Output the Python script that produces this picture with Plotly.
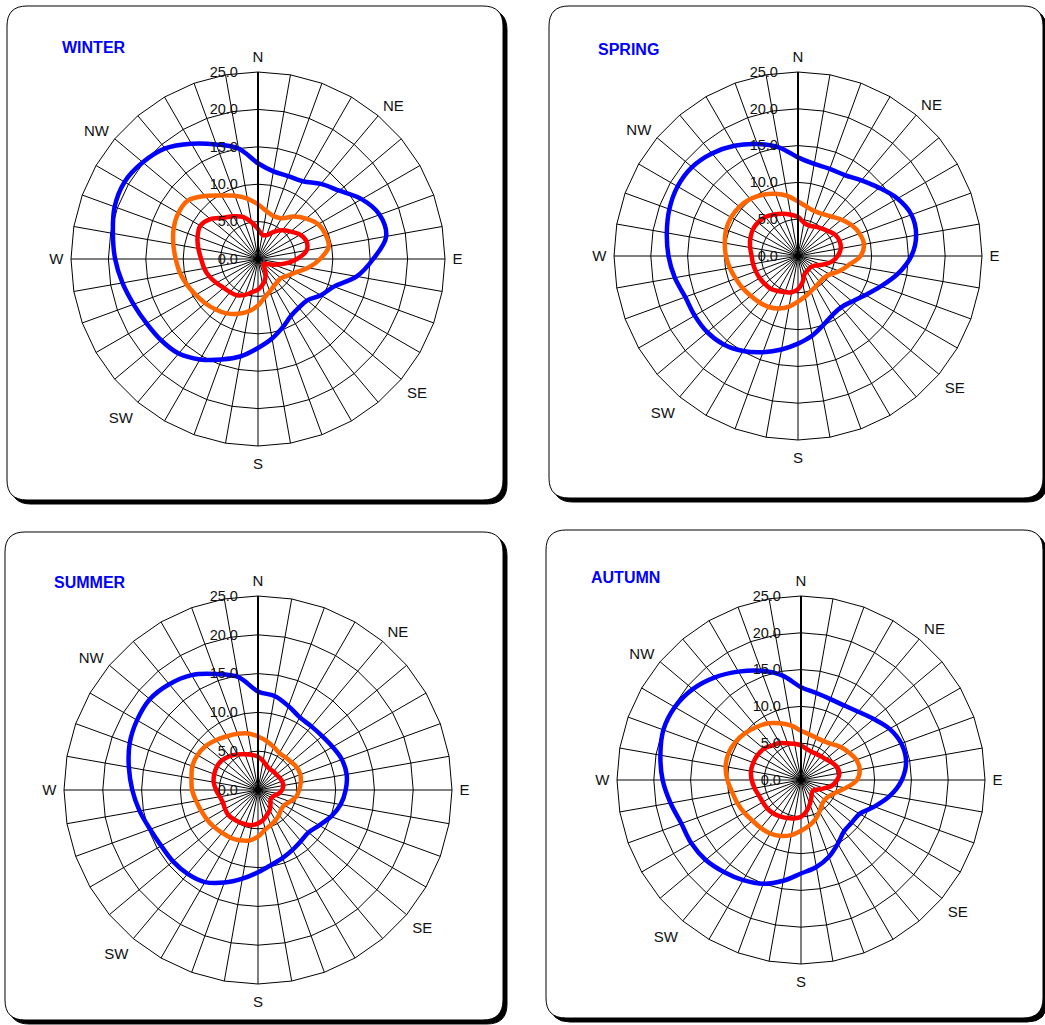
import plotly.graph_objects as go

W, H = 1045, 1025
FONT = "Liberation Sans, Arial, sans-serif"

# 36 directions, every 10 degrees
directions = [str(d) for d in range(0, 360, 10)]
dir_labels = ["N", "", "", "", "NE", "", "", "", "", "E", "", "", "", "SE", "", "", "", "",
              "S", "", "", "", "SW", "", "", "", "", "W", "", "", "", "NW", "", "", "", ""]
radial_ticks = [0, 5, 10, 15, 20, 25]

seasons = ["WINTER", "SPRING", "SUMMER", "AUTUMN"]

winter_blue = [12.8, 11.9, 11.8, 12.0, 13.1, 14.2, 16.0, 17.3, 17.4, 15.4, 13.4, 10.8,
               9.7, 8.6, 8.5, 8.8, 9.7, 10.8, 11.9, 13.2, 14.3, 15.5, 16.5, 16.9,
               17.2, 17.7, 18.4, 19.1, 19.7, 20.4, 20.6, 20.1, 19.3, 17.8, 16.3, 15.0]
winter_orange = [7.3, 6.5, 6.1, 6.3, 7.4, 8.4, 9.3, 9.6, 9.6, 8.3, 6.8, 5.3,
                 4.5, 4.0, 4.0, 4.2, 4.6, 5.2, 6.2, 7.1, 7.8, 8.4, 8.8, 9.2,
                 9.6, 10.1, 10.6, 11.0, 11.5, 12.0, 12.3, 12.2, 11.0, 9.8, 9.0, 8.2]
winter_red = [4.0, 3.3, 3.4, 4.2, 5.0, 5.7, 6.5, 6.9, 6.6, 5.2, 3.6, 2.2,
              1.3, 1.0, 1.2, 2.0, 2.8, 3.5, 4.1, 4.5, 5.1, 5.6, 5.8, 6.0,
              6.4, 6.9, 7.3, 7.6, 8.1, 8.6, 8.9, 8.3, 7.2, 6.6, 6.0, 5.0]

spring_blue = [13.4, 12.7, 12.6, 12.7, 13.4, 14.4, 15.6, 16.4, 16.3, 15.4, 13.8, 12.0,
               10.6, 9.6, 9.1, 9.3, 10.0, 11.0, 11.9, 12.9, 13.9, 14.9, 15.7, 16.1,
               16.2, 16.3, 17.0, 17.6, 18.1, 18.6, 18.9, 18.8, 18.2, 17.3, 16.2, 15.0]
spring_orange = [7.4, 6.8, 6.5, 6.6, 7.0, 7.7, 8.4, 8.9, 9.1, 8.5, 7.0, 6.0,
                 5.0, 4.6, 4.6, 4.8, 5.1, 5.6, 6.2, 7.0, 7.6, 8.0, 8.2, 8.4,
                 8.7, 9.0, 9.4, 9.8, 10.1, 10.4, 10.5, 10.4, 10.1, 9.6, 9.0, 8.3]
spring_red = [5.3, 4.6, 4.4, 4.6, 4.9, 5.3, 5.8, 6.0, 5.9, 5.4, 4.6, 3.5,
              2.6, 2.3, 2.3, 2.4, 2.6, 3.6, 4.5, 5.0, 5.2, 5.5, 5.8, 5.9,
              6.0, 6.1, 6.2, 6.3, 6.6, 6.9, 7.1, 7.1, 6.9, 6.5, 6.1, 5.7]

summer_blue = [12.7, 12.3, 11.5, 10.8, 10.7, 10.8, 11.1, 11.5, 11.6, 11.3, 10.8, 10.0,
               9.1, 8.5, 8.6, 8.9, 9.3, 9.8, 10.6, 11.6, 12.7, 13.7, 14.1, 14.3,
               14.4, 14.8, 15.5, 16.2, 16.9, 17.6, 18.0, 18.2, 17.8, 17.1, 15.9, 14.8]
summer_orange = [6.9, 6.4, 5.9, 5.5, 5.5, 5.6, 5.8, 5.8, 5.6, 5.3, 5.0, 4.4,
                 3.9, 3.9, 4.2, 4.5, 4.8, 5.2, 6.0, 6.6, 6.9, 7.1, 7.2, 7.4,
                 7.6, 7.8, 8.1, 8.5, 8.7, 9.0, 9.0, 8.8, 8.4, 8.0, 7.7, 7.4]
summer_red = [4.3, 3.8, 3.3, 3.1, 3.1, 3.1, 3.2, 3.3, 3.3, 3.1, 2.7, 2.2,
              2.0, 2.1, 2.5, 3.0, 3.4, 3.9, 4.3, 4.6, 4.7, 4.8, 4.9, 5.0,
              4.9, 4.8, 5.0, 5.4, 5.8, 6.0, 6.1, 6.0, 5.7, 5.3, 4.9, 4.6]

autumn_blue = [12.6, 12.0, 11.7, 11.7, 12.1, 12.9, 13.9, 14.5, 14.5, 13.7, 12.3, 10.6,
               9.2, 9.0, 9.1, 10.0, 11.1, 12.0, 12.7, 13.9, 15.0, 15.7, 16.3, 16.9,
               17.2, 17.3, 18.0, 18.8, 19.4, 19.9, 19.8, 19.2, 18.2, 17.0, 15.8, 14.4]
autumn_orange = [6.7, 6.3, 6.1, 6.1, 6.4, 7.0, 7.5, 8.0, 8.1, 7.6, 6.2, 5.0,
                 4.4, 4.2, 4.4, 5.0, 5.7, 6.3, 6.9, 7.6, 8.1, 8.4, 8.5, 8.6,
                 8.9, 9.2, 9.5, 10.0, 10.4, 10.5, 10.3, 9.9, 9.4, 8.9, 8.2, 7.5]
autumn_red = [4.7, 4.3, 4.1, 4.1, 4.2, 4.4, 4.8, 5.2, 5.3, 4.9, 4.3, 3.3,
              2.6, 2.2, 2.3, 2.8, 3.5, 4.3, 5.0, 5.3, 5.5, 5.7, 5.9, 6.0,
              6.0, 6.1, 6.4, 6.7, 6.9, 6.9, 6.8, 6.6, 6.1, 5.8, 5.3, 5.0]

season_data = {
    "WINTER": [winter_blue, winter_orange, winter_red],
    "SPRING": [spring_blue, spring_orange, spring_red],
    "SUMMER": [summer_blue, summer_orange, summer_red],
    "AUTUMN": [autumn_blue, autumn_orange, autumn_red],
}
series_colors = ["#0000FF", "#FF6600", "#FF0000"]

# layout geometry (pixels)
centers = {"WINTER": (258, 259, 187), "SPRING": (798, 256, 184),
           "SUMMER": (258, 790, 194), "AUTUMN": (801, 780, 184)}
boxes = {"WINTER": (7, 6, 503, 500), "SPRING": (549, 6, 1043, 498),
         "SUMMER": (5, 532, 503, 1020), "AUTUMN": (546, 530, 1043, 1018)}
title_pos = {"WINTER": (60, 47), "SPRING": (596, 49), "SUMMER": (52, 582), "AUTUMN": (589, 577)}


def px(x):
    return x / W


def py(y):
    return 1 - y / H


def rounded_path(x0, y0, x1, y1, r):
    pts = [
        ("M", [(x0 + r, y0)]),
        ("L", [(x1 - r, y0)]),
        ("Q", [(x1, y0), (x1, y0 + r)]),
        ("L", [(x1, y1 - r)]),
        ("Q", [(x1, y1), (x1 - r, y1)]),
        ("L", [(x0 + r, y1)]),
        ("Q", [(x0, y1), (x0, y1 - r)]),
        ("L", [(x0, y0 + r)]),
        ("Q", [(x0, y0), (x0 + r, y0)]),
    ]
    s = ""
    for cmd, ps in pts:
        s += cmd + " " + " ".join(f"{px(a):.5f},{py(b):.5f}" for a, b in ps) + " "
    return s + "Z"


fig = go.Figure()
shapes = []
annotations = []
layout_polars = {}

for i, season in enumerate(seasons):
    sub = "polar" if i == 0 else f"polar{i + 1}"
    cx, cy, R = centers[season]
    for vals, col in zip(season_data[season], series_colors):
        fig.add_trace(go.Scatterpolar(
            r=vals + [vals[0]],
            theta=directions + [directions[0]],
            mode="lines",
            line=dict(color=col, width=4.5, shape="spline", smoothing=1.0),
            subplot=sub,
            showlegend=False,
            hoverinfo="skip",
        ))
    layout_polars[sub] = dict(
        domain=dict(x=[px(cx - R), px(cx + R)], y=[py(cy + R), py(cy - R)]),
        bgcolor="white",
        gridshape="linear",
        angularaxis=dict(
            type="category", categoryarray=directions,
            direction="clockwise", rotation=90,
            tickmode="array", tickvals=directions, ticktext=dir_labels,
            showgrid=True, gridcolor="black", gridwidth=1,
            showline=True, linecolor="black", linewidth=1,
            ticks="outside", ticklen=4, tickcolor="rgba(0,0,0,0)",
            tickfont=dict(family=FONT, size=15, color="#111111"),
        ),
        radialaxis=dict(
            range=[0, 25], tickmode="array", tickvals=radial_ticks, tickformat=".1f",
            showgrid=True, gridcolor="black", gridwidth=1,
            showline=True, linecolor="black", linewidth=2,
            angle=90, side="counterclockwise", tickangle=90,
            ticks="outside", ticklen=14, tickcolor="rgba(0,0,0,0)",
            tickfont=dict(family=FONT, size=14.5, color="#111111"),
        ),
    )
    x0, y0, x1, y1 = boxes[season]
    shapes.append(dict(type="path", xref="paper", yref="paper", layer="below",
                       path=rounded_path(x0 + 4, y0 + 4, x1 + 4, y1 + 4, 20),
                       fillcolor="black", line=dict(color="black", width=1)))
    shapes.append(dict(type="path", xref="paper", yref="paper", layer="below",
                       path=rounded_path(x0, y0, x1, y1, 20),
                       fillcolor="white", line=dict(color="black", width=1)))
    tx, ty = title_pos[season]
    annotations.append(dict(text=f"<b>{season}</b>", x=px(tx), y=py(ty), xref="paper", yref="paper",
                            xanchor="left", yanchor="middle", showarrow=False,
                            font=dict(family=FONT, size=16, color="#0000FF")))

fig.update_layout(
    width=W, height=H,
    margin=dict(l=0, r=0, t=0, b=0),
    paper_bgcolor="white",
    plot_bgcolor="white",
    showlegend=False,
    shapes=shapes,
    annotations=annotations,
    **layout_polars,
)

fig.write_html("out.html", config={"displayModeBar": False},
               post_script="document.body.style.margin='0px';")
